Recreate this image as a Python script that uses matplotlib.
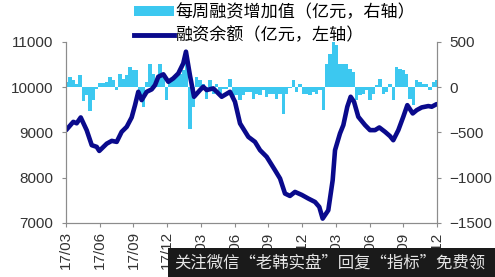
import numpy as np
import matplotlib
matplotlib.use("Agg")
import matplotlib.pyplot as plt
from matplotlib.patches import Patch, Rectangle
from matplotlib.lines import Line2D

plt.rcParams['font.family'] = ['Liberation Sans', 'Noto Sans CJK SC', 'DejaVu Sans']

tick_labels = ["17/03", "17/06", "17/09", "17/12", "18/03", "18/06",
               "18/09", "18/12", "19/03", "19/06", "19/09", "19/12"]

# month offsets (0 = 2017/03) and financing balance (亿元, left axis)
line_months = [0.00, 0.65, 0.95, 1.31, 1.84, 2.29, 2.73, 2.96, 3.62, 4.07, 4.51, 4.95,
               5.40, 5.84, 6.14, 6.43, 6.73, 7.18, 7.62, 7.92, 8.21, 8.66, 9.10, 9.54,
               9.99, 10.43, 10.67, 11.03, 11.39, 11.92, 12.21, 12.51, 13.10, 13.85, 14.59,
               15.03, 15.48, 16.22, 16.81, 17.26, 17.85, 18.59, 19.04, 19.48, 19.92, 20.37,
               20.97, 21.55, 22.15, 22.53, 22.83, 23.33, 23.72, 23.93, 24.37, 24.67, 25.02,
               25.32, 25.62, 26.00, 26.60, 27.04, 27.49, 27.87, 28.38, 28.82, 29.11, 29.56,
               30.00, 30.36, 30.84, 31.20, 31.64, 32.23, 32.53, 32.97]
balance = [9047, 9232, 9200, 9329, 9047, 8717, 8680, 8590, 8750, 8812, 8790, 9011,
           9122, 9329, 9600, 9895, 9712, 9895, 9948, 10043, 10227, 10280, 10116, 10190,
           10300, 10522, 10780, 10250, 9785, 9933, 10006, 9933, 9970, 9785, 9895,
           9674, 9196, 8900, 8790, 8607, 8460, 8165, 7981, 7650, 7597, 7686,
           7620, 7540, 7464, 7354, 7097, 7281, 7944, 8607, 8975, 9160, 9564,
           9785, 9674, 9343, 9160, 9049, 9049, 9108, 9011, 8916, 8827, 9049,
           9343, 9600, 9417, 9491, 9550, 9580, 9565, 9623]

# weekly financing change (亿元, right axis)
weekly_change = [55, 110, 80, 35, 130, -150, -92, -260, -147, -20, 44, 44, 55, 110, 74,
                 -30, 147, 92, 129, 221, 191, 191, -130, -221, 55, 258, 147, 92, 258, 110,
                 -147, 74, 74, 147, 147, 184,
                 260, -460, -221, 110, 74, 37, -129, 74, -74, 37, -92, -20, -20, 92, -110,
                 -92, -147, -92, -55, -55, -129, -74, -92, -37, -110, -74, -74, -129, -74,
                 -295, -74, -10, 74, -55, 37, -74,
                 -74, -92, -55, -74, -37, -258, 258, 368, 497, 460, 258, 258, 258, 200, 165,
                 -147, -92, -74, -37, -147, -74, 18, 92, -74, -55, 37, -147, 221, 200, 184,
                 147, -129, -200, 74, 55, 37, 37, -37, 55, 74]

fig = plt.figure(figsize=(4.95, 2.77), dpi=100)
ax1 = fig.add_axes([66/495, 1-223/277, (437-66)/495, (223-41.7)/277])
ax2 = ax1.twinx()

bar_x = np.linspace(0.06, 32.97, len(weekly_change))
bar_color = '#3CC8F0'
line_color = '#0A0A8C'
ax2.bar(bar_x, weekly_change, width=(bar_x[1]-bar_x[0])*1.02, color=bar_color, linewidth=0)
ax1.plot(line_months, balance, color=line_color, lw=3.3, solid_joinstyle='round',
         solid_capstyle='round')

ax1.set_zorder(ax2.get_zorder() + 1)
ax1.patch.set_visible(False)

ax1.set_xlim(0, 33)
ax1.set_ylim(7000, 11000)
ax2.set_ylim(-1500, 500)
ax1.set_yticks([7000, 8000, 9000, 10000, 11000])
ax2.set_yticks([-1500, -1000, -500, 0, 500])
ax1.set_xticks(np.arange(0, 34, 3))
ax1.set_xticklabels(tick_labels, rotation=90)

grey = '#8c8c8c'
txt = '#333333'
for ax in (ax1, ax2):
    ax.spines['top'].set_visible(False)
    for s in ('left', 'right', 'bottom'):
        ax.spines[s].set_color(grey)
        ax.spines[s].set_linewidth(0.8)
    ax.tick_params(colors=grey, labelcolor=txt, labelsize=11, length=3, width=0.8)
ax1.tick_params(axis='y', pad=6)
ax2.tick_params(axis='y', pad=6)
ax1.tick_params(axis='x', pad=3)

handles = [Patch(facecolor=bar_color, edgecolor='none'),
           Line2D([0], [0], color=line_color, lw=3.5)]
labels = ['每周融资增加值（亿元，右轴）', '融资余额（亿元，左轴）']
fig.legend(handles, labels, loc='upper left', bbox_to_anchor=(124/495, 1.025),
           frameon=False, handlelength=2.3, handleheight=0.5,
           handletextpad=0.1, labelspacing=0.3, borderaxespad=0.2,
           prop={'family': ['Noto Sans CJK SC'], 'size': 12.3})

# watermark overlay present in the reference image
fig.patches.append(Rectangle((168/495, 0), 1-168/495, 29/277, transform=fig.transFigure,
                             facecolor='#1a1a1a', edgecolor='none', zorder=10))
fig.text(174/495, 14/277, '关注微信“老韩实盘”回复“指标”免费领', color='#e6e6e6',
         fontsize=11.8, va='center', ha='left', zorder=11,
         family=['Noto Sans CJK SC'])

fig.savefig('out.png', dpi=100)
